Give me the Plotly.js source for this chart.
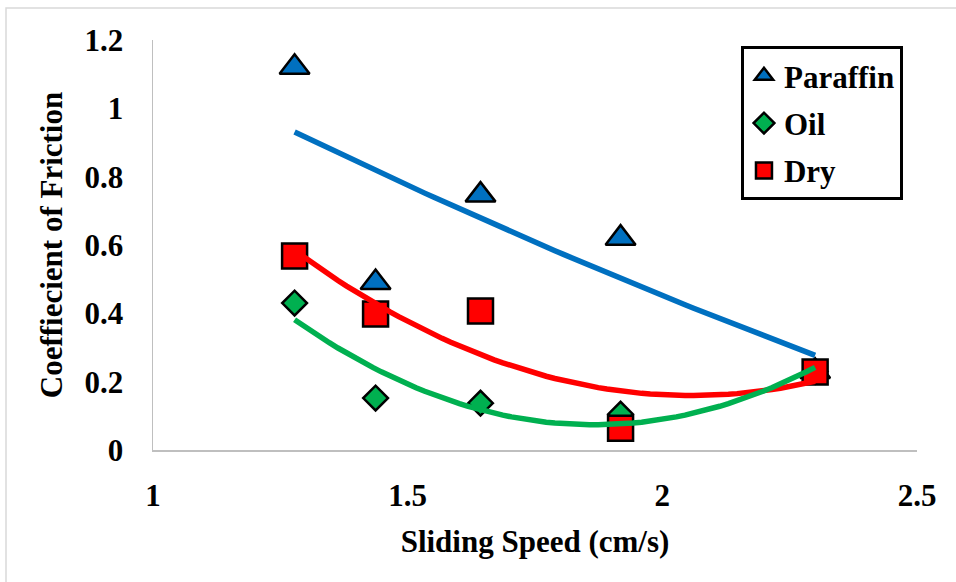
<!DOCTYPE html>
<html>
<head>
<meta charset="utf-8">
<script src="https://cdn.plot.ly/plotly-3.0.1.min.js"></script>
<style>html,body{margin:0;padding:0;background:#fff;}#chart{width:956px;height:582px;}</style>
</head>
<body>
<div id="chart"></div>
<script>
// Data
const speed = [1.278, 1.437, 1.643, 1.918, 2.30];
const paraffin = [1.12, 0.49, 0.746, 0.62, 0.23];
const oil = [0.43, 0.152, 0.137, 0.105, 0.23];
const dry = [0.568, 0.398, 0.407, 0.064, 0.228];
const seriesNames = ['Paraffin', 'Oil', 'Dry'];
const xTicks = [1, 1.5, 2, 2.5];
const yTicks = [0, 0.2, 0.4, 0.6, 0.8, 1, 1.2];

// quadratic least-squares trendline (Excel polynomial order 2)
function polyFit2(xs, ys) {
  let S = [0,0,0,0,0], T = [0,0,0];
  for (let i = 0; i < xs.length; i++) {
    let p = 1;
    for (let k = 0; k < 5; k++) { S[k] += p; if (k < 3) T[k] += p * ys[i]; p *= xs[i]; }
  }
  const A = [[S[0],S[1],S[2],T[0]],[S[1],S[2],S[3],T[1]],[S[2],S[3],S[4],T[2]]];
  for (let c = 0; c < 3; c++) {
    let piv = c;
    for (let r = c+1; r < 3; r++) if (Math.abs(A[r][c]) > Math.abs(A[piv][c])) piv = r;
    [A[c], A[piv]] = [A[piv], A[c]];
    for (let r = 0; r < 3; r++) if (r !== c) {
      const f = A[r][c] / A[c][c];
      for (let k = c; k < 4; k++) A[r][k] -= f * A[c][k];
    }
  }
  return [A[0][3]/A[0][0], A[1][3]/A[1][1], A[2][3]/A[2][2]];
}
function trend(xs, ys) {
  const c = polyFit2(xs, ys);
  const x0 = Math.min(...xs), x1 = Math.max(...xs);
  const tx = [], ty = [];
  for (let i = 0; i <= 60; i++) {
    const x = x0 + (x1 - x0) * i / 60;
    tx.push(x); ty.push(c[0] + c[1]*x + c[2]*x*x);
  }
  return {x: tx, y: ty};
}

const BLUE = '#0070C0', GREEN = '#00B050', RED = '#FF0000';
const FONT = 'Liberation Serif, Times New Roman, serif';
const FS = 31;

const tP = trend(speed, paraffin), tO = trend(speed, oil), tD = trend(speed, dry);

const data = [
  {x: speed, y: paraffin, name: seriesNames[0], mode: 'markers', type: 'scatter', legendgroup: 'a',
   marker: {symbol: 'triangle-up', size: 26, color: BLUE, line: {color: '#000', width: 2.5}}},
  {x: speed, y: oil, name: seriesNames[1], mode: 'markers', type: 'scatter', legendgroup: 'b',
   marker: {symbol: 'diamond', size: 19, color: GREEN, line: {color: '#000', width: 2.5}}},
  {x: speed, y: dry, name: seriesNames[2], mode: 'markers', type: 'scatter', legendgroup: 'c',
   marker: {symbol: 'square', size: 25, color: RED, line: {color: '#000', width: 2.5}}},
  {x: tD.x, y: tD.y, mode: 'lines', type: 'scatter', showlegend: false, hoverinfo: 'skip',
   line: {color: RED, width: 5.5}},
  {x: tO.x, y: tO.y, mode: 'lines', type: 'scatter', showlegend: false, hoverinfo: 'skip',
   line: {color: GREEN, width: 5.5}},
  {x: tP.x, y: tP.y, mode: 'lines', type: 'scatter', showlegend: false, hoverinfo: 'skip',
   line: {color: BLUE, width: 5.5}}
];

const layout = {
  width: 956, height: 582,
  margin: {l: 153, r: 39, t: 40, b: 132},
  paper_bgcolor: '#fff', plot_bgcolor: '#fff',
  font: {family: FONT, size: FS, color: '#000', weight: 'bold'},
  showlegend: true,
  legend: {x: 0.7696, y: 0.985, xanchor: 'left', yanchor: 'top',
    bordercolor: '#000', borderwidth: 3, bgcolor: '#fff', tracegroupgap: 4,
    font: {family: FONT, size: FS, color: '#000', weight: 'bold'}},
  xaxis: {range: [1, 2.5], tickvals: xTicks, ticktext: xTicks.map(String),
    showgrid: false, zeroline: false, showline: true, linecolor: '#bfbfbf', linewidth: 1.5,
    ticks: '', ticklabelstandoff: 17,
    tickfont: {family: FONT, size: FS, weight: 'bold'},
    title: {text: 'Sliding Speed (cm/s)', standoff: 18, font: {family: FONT, size: FS, weight: 'bold'}}},
  yaxis: {range: [0, 1.2], tickvals: yTicks, ticktext: yTicks.map(String),
    showgrid: false, zeroline: false, showline: true, linecolor: '#bfbfbf', linewidth: 1.5,
    ticks: '', ticklabelstandoff: 22,
    tickfont: {family: FONT, size: FS, weight: 'bold'},
    title: {text: 'Coeffiecient of Friction', standoff: 12, font: {family: FONT, size: FS, weight: 'bold'}}},
  shapes: [{type: 'rect', xref: 'paper', yref: 'paper', x0: -0.1924, x1: 1.2, y0: -0.5, y1: 1.078,
    line: {color: '#d9d9d9', width: 1.5}, fillcolor: 'rgba(0,0,0,0)', layer: 'below'}]
};

Plotly.newPlot('chart', data, layout, {displayModeBar: false, staticPlot: true});
</script>
</body>
</html>
